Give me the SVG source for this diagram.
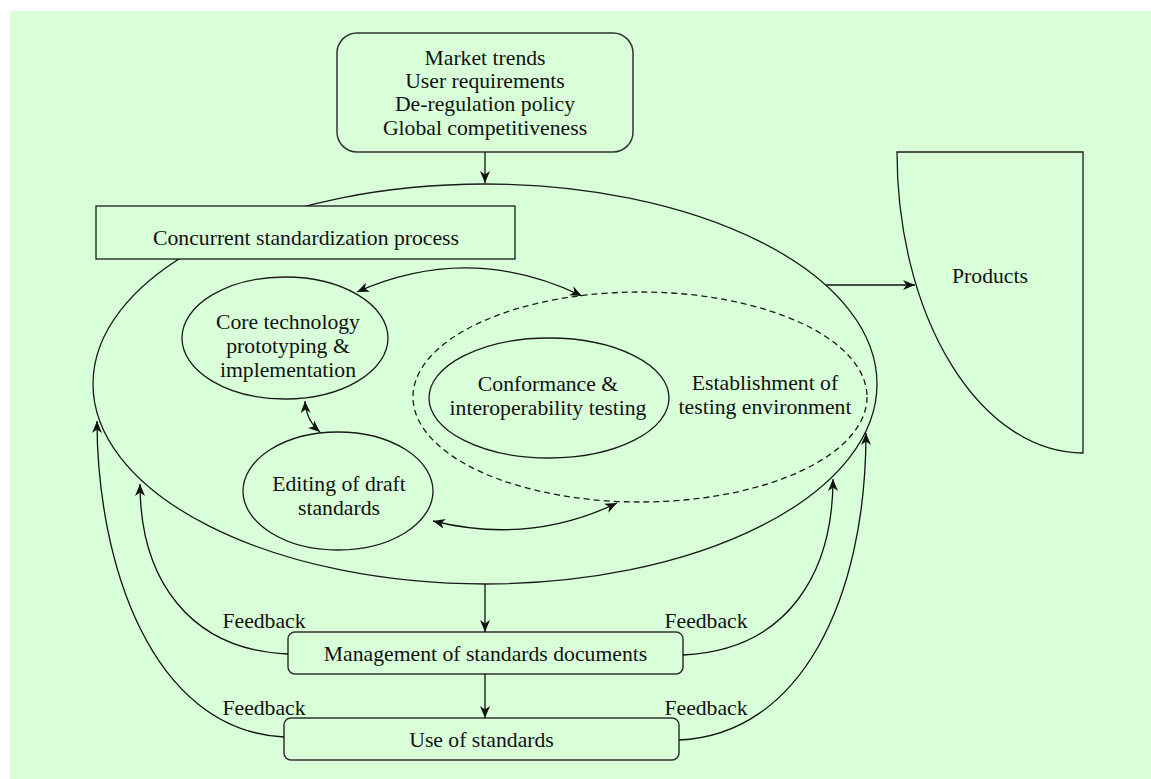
<svg xmlns="http://www.w3.org/2000/svg" width="1151" height="779" viewBox="0 0 1151 779">
<style>
.bg{fill:#d8ffd8}
.n{fill:#d8ffd8;stroke:#1a1a1a;stroke-width:1.3}
.box{fill:#d8ffd8;stroke:#333;stroke-width:1.5}
.dash{fill:none;stroke:#1a1a1a;stroke-width:1.3;stroke-dasharray:6 4}
.c{fill:none;stroke:#111;stroke-width:1.3}
text{font-family:"Liberation Serif","Times New Roman",serif;font-size:21.7px;fill:#111;text-anchor:middle}
</style>
<defs>
<marker id="arr" viewBox="0 0 12 10" refX="12" refY="5" markerWidth="12" markerHeight="10" markerUnits="userSpaceOnUse" orient="auto-start-reverse">
<path d="M0,0 L12,5 L0,10 L3.5,5 Z" fill="#111"/>
</marker>
</defs>
<rect class="bg" x="10" y="11" width="1141" height="768"/>

<g id="big">
<ellipse class="n" cx="485" cy="384" rx="392" ry="200"/>
</g>
<g id="concurrent">
<rect class="n" x="96" y="206" width="419" height="53"/>
<text x="306" y="245">Concurrent standardization process</text>
</g>
<g id="top">
<rect class="box" x="337" y="33" width="296" height="119" rx="20"/>
<text x="485" y="65">Market trends</text>
<text x="485" y="88">User requirements</text>
<text x="485" y="111">De-regulation policy</text>
<text x="485" y="135">Global competitiveness</text>
</g>
<g id="core">
<ellipse class="n" cx="285" cy="338" rx="103" ry="61"/>
<text x="288" y="329">Core technology</text>
<text x="288" y="353">prototyping &amp;</text>
<text x="288" y="377">implementation</text>
</g>
<g id="editing">
<ellipse class="n" cx="338" cy="491" rx="95" ry="59"/>
<text x="339" y="491">Editing of draft</text>
<text x="339" y="515">standards</text>
</g>
<g id="testenv">
<ellipse class="dash" cx="640" cy="397" rx="227" ry="105"/>
<text x="765" y="390">Establishment of</text>
<text x="765" y="414">testing environment</text>
</g>
<g id="conformance">
<ellipse class="n" cx="549" cy="398" rx="120" ry="60"/>
<text x="548" y="391">Conformance &amp;</text>
<text x="548" y="415">interoperability testing</text>
</g>
<g id="products">
<path class="n" d="M897,152 L1083,152 L1083,453 A186,301 0 0 1 897,152 Z"/>
<text x="990" y="283">Products</text>
</g>
<g id="management">
<rect class="box" x="288" y="632" width="395" height="42" rx="7"/>
<text x="485.5" y="661">Management of standards documents</text>
</g>
<g id="use">
<rect class="box" x="284" y="718" width="395" height="42" rx="7"/>
<text x="481.5" y="747">Use of standards</text>
</g>
<g id="connectors">
<path class="c" d="M485,152 L485,183" marker-end="url(#arr)"/>
<path class="c" d="M826,285 L915,285" marker-end="url(#arr)"/>
<path class="c" d="M357,292 Q470,242 582,296" marker-start="url(#arr)" marker-end="url(#arr)"/>
<path class="c" d="M305,401 Q306,420 320,432" marker-start="url(#arr)" marker-end="url(#arr)"/>
<path class="c" d="M433,521 Q530,545 617,503" marker-start="url(#arr)" marker-end="url(#arr)"/>
<path class="c" d="M485,584 L485,632" marker-end="url(#arr)"/>
<path class="c" d="M485,674 L485,718" marker-end="url(#arr)"/>
<path class="c" d="M288,654 C190,650 140,580 140,484" marker-end="url(#arr)"/>
<path class="c" d="M284,737 C150,730 97,560 97,421" marker-end="url(#arr)"/>
<path class="c" d="M683,655 C790,650 833,570 833,479" marker-end="url(#arr)"/>
<path class="c" d="M679,740 C800,735 866,600 866,433" marker-end="url(#arr)"/>
</g>
<g id="labels">
<text x="264" y="628">Feedback</text>
<text x="264" y="715">Feedback</text>
<text x="706" y="628">Feedback</text>
<text x="706" y="715">Feedback</text>
</g>
</svg>
